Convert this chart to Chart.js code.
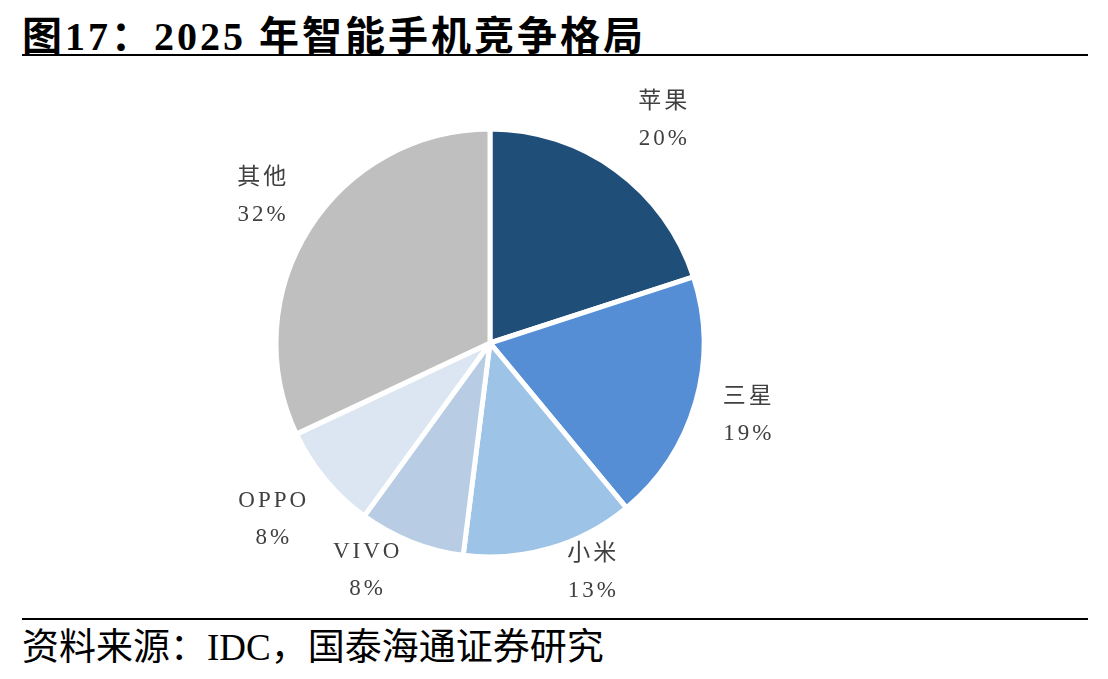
<!DOCTYPE html>
<html>
<head>
<meta charset="utf-8">
<script src="https://cdn.jsdelivr.net/npm/chart.js@4/dist/chart.umd.min.js"></script>
<style>
  body { margin: 0; background: #fff; width: 1108px; height: 679px; position: relative; overflow: hidden; }
  .title { position: absolute; left: 22px; top: 4px; font: bold 40px "Liberation Serif", "Noto Sans CJK SC", serif; letter-spacing: 3px; color: #000; white-space: nowrap; }
  .rule { position: absolute; left: 22px; width: 1066px; height: 2px; background: #000; }
  .source { position: absolute; left: 22px; top: 617px; font: 37px "Liberation Serif", "Noto Sans CJK SC", serif; color: #000; white-space: nowrap; }
  #share { position: absolute; left: 0; top: 60px; }
</style>
</head>
<body>
<div class="title">图17：2025 年智能手机竞争格局</div>
<div class="rule" style="top:54px"></div>
<canvas id="share" width="1108" height="555"></canvas>
<div class="rule" style="top:618px"></div>
<div class="source">资料来源：IDC，国泰海通证券研究</div>
<script>
const brands = ["苹果", "三星", "小米", "VIVO", "OPPO", "其他"];
const shares = [20, 19, 13, 8, 8, 32];
const colors = ["#1F4E79", "#558ED5", "#9DC3E6", "#B8CCE4", "#DCE6F2", "#BFBFBF"];

// label placement, relative to slice middle: [angle shift in degrees, distance / radius]
const labelPlace = [[1.8, 1.33], [-0.6, 1.26], [-7.8, 1.18], [7, 1.22], [0.7, 1.32], [0.3, 1.28]];

const outsideLabels = {
  id: "outsideLabels",
  afterDatasetsDraw(chart) {
    const ctx = chart.ctx;
    const meta = chart.getDatasetMeta(0);
    ctx.save();
    ctx.fillStyle = "#404040";
    ctx.font = '23px "Liberation Serif", "Noto Sans CJK SC", serif';
    ctx.letterSpacing = "3px";
    ctx.textAlign = "center";
    ctx.textBaseline = "middle";
    meta.data.forEach((arc, i) => {
      const p = arc.getProps(["x", "y", "startAngle", "endAngle"], true);
      const a = (p.startAngle + p.endAngle) / 2 + labelPlace[i][0] * Math.PI / 180;
      const d = 212 * labelPlace[i][1];
      const x = p.x + Math.cos(a) * d;
      const y = p.y + Math.sin(a) * d;
      ctx.fillText(brands[i], x + 1.5, y - 18);
      ctx.fillText(shares[i] + "%", x + 1.5, y + 19);
    });
    ctx.restore();
  }
};

new Chart(document.getElementById("share"), {
  type: "pie",
  data: {
    labels: brands,
    datasets: [{
      data: shares,
      backgroundColor: colors,
      borderColor: "#ffffff",
      borderWidth: 5,
      radius: 214
    }]
  },
  options: {
    responsive: false,
    animation: false,
    layout: {
      padding: { left: 278, right: 406, top: 71, bottom: 60 }
    },
    plugins: {
      legend: { display: false },
      tooltip: { enabled: false }
    }
  },
  plugins: [outsideLabels]
});
</script>
</body>
</html>
